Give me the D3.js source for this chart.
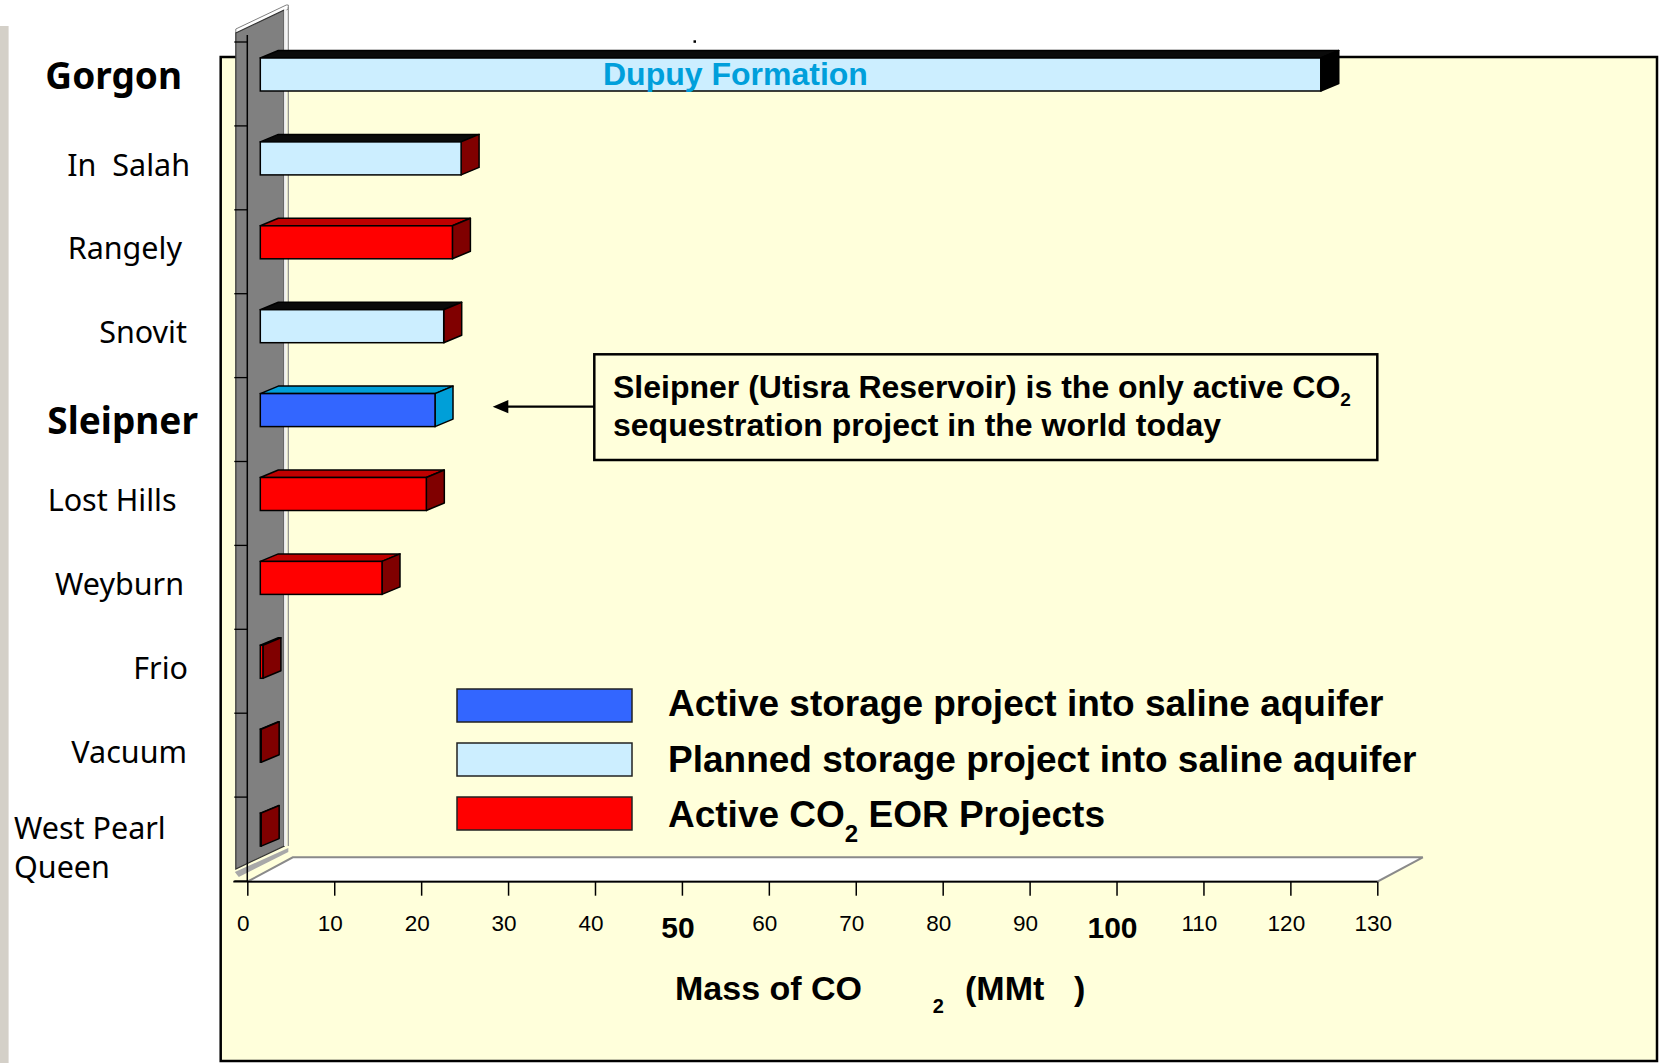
<!DOCTYPE html>
<html lang="en">
<head>
    <meta charset="UTF-8">
    <title>Mass of CO2 - sequestration projects</title>
    <script src="https://d3js.org/d3.v7.min.js"></script>
    <style>
        body { margin: 0; background: #fff; }
        svg { display: block; }
        .cat { font-family: "Noto Sans", "DejaVu Sans", sans-serif; font-size: 30.5px; fill: #000; white-space: pre; }
        .cat.big { font-size: 37px; font-weight: bold; }
        .arial { font-family: "Liberation Sans", Arial, sans-serif; }
    </style>
</head>
<body onload="init()">
<svg id="chart" width="1667" height="1063"></svg>
<script>
    // data (MMt of CO2)
    var categories = ["Gorgon", "In  Salah", "Rangely", "Snovit", "Sleipner", "Lost Hills", "Weyburn", "Frio", "Vacuum", "West Pearl Queen"];
    var mass = [122, 23.1, 22.1, 21.1, 20.1, 19.1, 14.0, 0.3, 0.1, 0.1];
    var projectType = ["plannedLarge", "planned", "eor", "planned", "active", "eor", "eor", "eor", "eor", "eor"];
    var boldCategories = ["Gorgon", "Sleipner"];

    var xTicks = [0, 10, 20, 30, 40, 50, 60, 70, 80, 90, 100, 110, 120, 130];
    var bigTicks = [50, 100];

    var legendTypes = ["active", "planned", "eor"];
    var legendLabels = ["Active storage project into saline aquifer", "Planned storage project into saline aquifer", "Active CO2 EOR Projects"];
    var noteLines = ["Sleipner (Utisra Reservoir) is the only active CO2", "sequestration project in the world today"];

    var shades = {
        active:       {front: "#3366ff", top: "#009fd8", side: "#009fd8"},
        planned:      {front: "#cceeff", top: "#0a0a0a", side: "#800000"},
        plannedLarge: {front: "#cceeff", top: "#0a0a0a", side: "#000000"},
        eor:          {front: "#ff0000", top: "#c00000", side: "#800000"}
    };

    // the labels were placed by hand in the original slide
    var labelPlace = {
        "Gorgon": [182, 4.7], "In  Salah": [190, 7.7], "Rangely": [182, 7.7], "Snovit": [187, 7.7],
        "Sleipner": [198, 14.3], "Lost Hills": [176.5, 7.7], "Weyburn": [184, 7.7], "Frio": [188, 7.7], "Vacuum": [187, 7.7]
    };

    // writes a string, turning "CO2" into CO with a subscript 2
    function subText(sel, str, subSize, subDy) {
        var parts = str.split("CO2");
        parts.forEach(function (p, i) {
            if (i > 0) {
                sel.append("tspan").text("CO");
                sel.append("tspan").attr("font-size", subSize).attr("dy", subDy).text("2");
                sel.append("tspan").attr("dy", -subDy).text(p);
            } else {
                sel.append("tspan").text(p);
            }
        });
    }

    function init() {
        var svg = d3.select("#chart");

        var x = d3.scaleLinear().domain([0, 130]).range([247.3, 1377.3]);
        var y = d3.scaleBand().domain(categories).range([42, 881]);

        var x0 = x(0), x1 = x(130), yAxis = 881.7;
        var depth = [45.5, -24.4];      // floor / wall depth
        var barDepth = [18, -7.5];      // bar box depth
        var barShift = 13, barOff = 16, barH = 33;

        // left grey strip and chart panel
        svg.append("rect").attr("x", 0).attr("y", 26).attr("width", 8.6).attr("height", 1037).attr("fill", "#d4d0c8");
        svg.append("rect")
            .attr("x", 220.7).attr("y", 57).attr("width", 1436.3).attr("height", 1004)
            .attr("fill", "#ffffdb").attr("stroke", "#000").attr("stroke-width", 2.5);

        // floor
        svg.append("polygon")
            .attr("points", [[x0, yAxis], [x0 + depth[0], yAxis + depth[1]], [x1 + depth[0], yAxis + depth[1]], [x1, yAxis]].join(" "))
            .attr("fill", "#fff").attr("stroke", "#8a8a8a").attr("stroke-width", 2);

        // side wall
        var wl = x0 - 11.5, wr = x0 + 37;
        svg.append("polygon")
            .attr("points", [[wl - 1, 872], [wr + 4, 848], [wr + 4, 852], [wl + 3, 877]].join(" "))
            .attr("fill", "#a8a8a8");
        svg.append("polygon")
            .attr("points", [[wl, 29], [wr + 2, 5], [wr + 4, 5], [wr + 4, 9], [wl + 5, 33], [wl, 33]].join(" "))
            .attr("fill", "#fff").attr("stroke", "#808080").attr("stroke-width", 1);
        svg.append("polygon")
            .attr("points", [[wl, 33], [wr, 10], [wr, 846], [wl, 869]].join(" "))
            .attr("fill", "#808080").attr("stroke", "#333").attr("stroke-width", 1.2);
        svg.append("line").attr("x1", wr + 1).attr("x2", wr + 1).attr("y1", 9).attr("y2", 846)
            .attr("stroke", "#f0f0f0").attr("stroke-width", 2.5);
        svg.append("line").attr("x1", wr + 4).attr("x2", wr + 4).attr("y1", 7).attr("y2", 846)
            .attr("stroke", "#8c8c8c").attr("stroke-width", 1.2);

        // vertical axis line and category ticks
        svg.append("line").attr("x1", x0).attr("x2", x0).attr("y1", 35).attr("y2", yAxis)
            .attr("stroke", "#000").attr("stroke-width", 1.5);
        svg.append("g").selectAll("line")
            .data(categories.map(function (c) { return y(c); }).concat([y.range()[1]]))
            .enter().append("line")
            .attr("x1", x0 - 13).attr("x2", x0)
            .attr("y1", function (d) { return d; }).attr("y2", function (d) { return d; })
            .attr("stroke", "#000").attr("stroke-width", 1.3);

        // x axis
        svg.append("line").attr("x1", x0 - 14).attr("x2", x1).attr("y1", yAxis).attr("y2", yAxis)
            .attr("stroke", "#000").attr("stroke-width", 1.8);
        var xAxis = svg.append("g")
            .attr("transform", "translate(0," + yAxis + ")")
            .call(d3.axisBottom(x).tickValues(xTicks).tickSize(14).tickSizeOuter(0).tickFormat(d3.format("d")));
        xAxis.select(".domain").remove();
        xAxis.selectAll(".tick line").attr("stroke", "#000").attr("stroke-width", 1.5);
        xAxis.selectAll(".tick text")
            .attr("class", "arial")
            .attr("fill", "#000")
            .attr("dy", null)
            .attr("x", -4.5)
            .attr("y", function (d) { return bigTicks.indexOf(d) >= 0 ? 56.3 : 49; })
            .attr("font-size", function (d) { return bigTicks.indexOf(d) >= 0 ? 30 : 22.5; })
            .attr("font-weight", function (d) { return bigTicks.indexOf(d) >= 0 ? "bold" : "normal"; });

        // bars as 3d boxes
        var bars = svg.append("g").selectAll("g")
            .data(categories.map(function (c, i) { return {cat: c, v: mass[i], type: projectType[i]}; }))
            .enter().append("g");

        function box(d) {
            var a = x(0) + barShift, b = x(d.v) + barShift, t = y(d.cat) + barOff;
            return {a: a, b: b, t: t, bt: t + barH};
        }

        bars.append("polygon")
            .attr("points", function (d) {
                var q = box(d);
                return [[q.a, q.t], [q.a + barDepth[0], q.t + barDepth[1]], [q.b + barDepth[0], q.t + barDepth[1]], [q.b, q.t]].join(" ");
            })
            .attr("fill", function (d) { return shades[d.type].top; })
            .attr("stroke", "#000").attr("stroke-width", 1.5).attr("stroke-linejoin", "round");
        bars.append("polygon")
            .attr("points", function (d) {
                var q = box(d);
                return [[q.b, q.t], [q.b + barDepth[0], q.t + barDepth[1]], [q.b + barDepth[0], q.bt + barDepth[1]], [q.b, q.bt]].join(" ");
            })
            .attr("fill", function (d) { return shades[d.type].side; })
            .attr("stroke", "#000").attr("stroke-width", 1.5).attr("stroke-linejoin", "round");
        bars.append("rect")
            .attr("x", function (d) { return box(d).a; })
            .attr("y", function (d) { return box(d).t; })
            .attr("width", function (d) { return box(d).b - box(d).a; })
            .attr("height", barH)
            .attr("fill", function (d) { return shades[d.type].front; })
            .attr("stroke", "#000").attr("stroke-width", 1.5);

        // category labels
        svg.append("g").selectAll("text")
            .data(categories.filter(function (c) { return c !== "West Pearl Queen"; }))
            .enter().append("text")
            .attr("class", function (d) { return boldCategories.indexOf(d) >= 0 ? "cat big" : "cat"; })
            .attr("text-anchor", "end")
            .attr("x", function (d) { return labelPlace[d][0]; })
            .attr("y", function (d) { return y(d) + y.bandwidth() / 2 + labelPlace[d][1]; })
            .text(function (d) { return d; });
        var wp = svg.append("text").attr("class", "cat").attr("x", 14).attr("y", y("West Pearl Queen") + 42);
        wp.append("tspan").attr("x", 14).text("West Pearl");
        wp.append("tspan").attr("x", 14).attr("dy", 38.4).text("Queen");

        // text inside the Gorgon bar
        svg.append("text").attr("class", "arial")
            .attr("x", 603).attr("y", 85)
            .attr("font-size", 32).attr("font-weight", "bold").attr("fill", "#009fdb")
            .text("Dupuy Formation");

        svg.append("rect").attr("x", 693.5).attr("y", 40.3).attr("width", 2.5).attr("height", 2.5).attr("fill", "#000");

        // note box and arrow
        svg.append("rect")
            .attr("x", 594.3).attr("y", 354.3).attr("width", 783).attr("height", 105.7)
            .attr("fill", "none").attr("stroke", "#000").attr("stroke-width", 2.5);
        svg.append("line").attr("x1", 594.3).attr("x2", 505).attr("y1", 406.7).attr("y2", 406.7)
            .attr("stroke", "#000").attr("stroke-width", 2.2);
        svg.append("polygon")
            .attr("points", [[492.7, 406.7], [508.3, 400], [508.3, 413.3]].join(" "))
            .attr("fill", "#000");
        noteLines.forEach(function (line, i) {
            var t = svg.append("text").attr("class", "arial")
                .attr("x", 613).attr("y", 398 + i * 37.5)
                .attr("font-size", 32).attr("font-weight", "bold").attr("fill", "#000");
            subText(t, line, 19, 8);
        });

        // legend
        var legend = svg.append("g");
        legend.selectAll("rect")
            .data(legendTypes).enter().append("rect")
            .attr("x", 457).attr("y", function (d, i) { return 689 + i * 54; })
            .attr("width", 175).attr("height", 33)
            .attr("fill", function (d) { return shades[d].front; })
            .attr("stroke", "#222").attr("stroke-width", 1.5);
        legendLabels.forEach(function (lab, i) {
            var t = legend.append("text").attr("class", "arial")
                .attr("x", 668).attr("y", 716 + i * 55.5)
                .attr("font-size", 37).attr("font-weight", "bold").attr("fill", "#000");
            subText(t, lab, 24, 15);
        });

        // axis title
        var title = svg.append("text").attr("class", "arial")
            .attr("font-weight", "bold").attr("font-size", 34).attr("fill", "#000");
        title.append("tspan").attr("x", 675).attr("y", 999.5).text("Mass of CO");
        title.append("tspan").attr("x", 932.7).attr("y", 1013).attr("font-size", 20).text("2");
        title.append("tspan").attr("x", 965).attr("y", 999.5).text("(MMt");
        title.append("tspan").attr("x", 1074).attr("y", 999.5).text(")");
    }
</script>
</body>
</html>
